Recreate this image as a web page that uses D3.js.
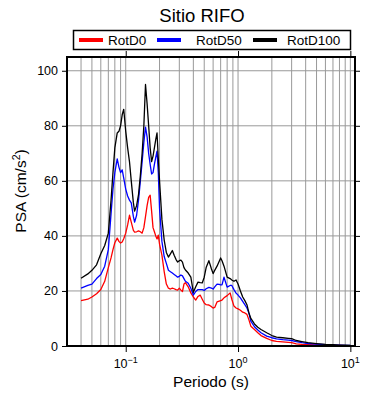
<!DOCTYPE html>
<html>
<head>
<meta charset="utf-8">
<script src="https://cdn.jsdelivr.net/npm/d3@7"></script>
<style>
  body { margin: 0; background: #fff; }
  svg { display: block; font-family: "Liberation Sans", Arial, sans-serif; }
</style>
</head>
<body>
<div id="chart"></div>
<script>
// Periodos (s) y espectros de respuesta
const periods = [0.04, 0.046, 0.05, 0.055, 0.06, 0.065, 0.07, 0.074, 0.077, 0.08,
  0.084, 0.087, 0.09, 0.093, 0.096, 0.1, 0.104, 0.108, 0.112, 0.117,
  0.12, 0.125, 0.13, 0.135, 0.14, 0.145, 0.15, 0.155, 0.16, 0.165,
  0.17, 0.175, 0.18, 0.185, 0.19, 0.195, 0.2, 0.21, 0.22, 0.23,
  0.24, 0.25, 0.26, 0.27, 0.28, 0.29, 0.3, 0.31, 0.32, 0.33,
  0.34, 0.36, 0.38, 0.4, 0.42, 0.44, 0.46, 0.48, 0.5, 0.52,
  0.55, 0.58, 0.6, 0.62, 0.65, 0.68, 0.7, 0.72, 0.75, 0.8,
  0.85, 0.88, 0.92, 0.96, 1.0, 1.05, 1.1, 1.15, 1.2, 1.25,
  1.3, 1.4, 1.5, 1.6, 1.8, 2.0, 2.2, 2.5, 2.8, 3.0,
  3.3, 3.7, 4.2, 5, 6, 7, 8, 9, 10];

const rotD0 = [16.5, 17, 17.8, 19, 20.5, 23.5, 28.5, 32, 35, 37.5,
  39.2, 38, 37.4, 37.8, 39, 41, 44, 47.5, 45, 42,
  41.4, 41.5, 41.8, 41.5, 41, 43, 47, 51, 54, 54.8,
  49, 43, 41.5, 40, 38.9, 40.3, 37, 33, 27, 22.5,
  21, 20.7, 21, 20.8, 20.5, 20.3, 21, 20.3, 19.8, 22.5,
  23, 21.5, 19.3, 17.8, 16.7, 18, 18.5, 17, 15.6, 15,
  14.9, 14.3, 13.8, 14, 16, 16.3, 16.5, 16.7, 17.5, 18.3,
  19.3, 17, 14.5, 13.8, 13.5, 13, 12.3, 12, 11.5, 9.5,
  7.2, 6, 4.8, 3.8, 2.8, 2.0, 1.7, 1.5, 1.3, 1.2,
  0.8, 0.6, 0.5, 0.4, 0.3, 0.25, 0.2, 0.15, 0.1];

const rotD50 = [21, 22, 22.5, 24.5, 26, 29, 35, 48, 57, 63,
  68, 65, 63, 64, 61, 57, 54.5, 53, 52, 47,
  45, 47.5, 53, 60, 67, 74, 79.5, 76, 70, 66,
  62.5, 63, 66, 68.5, 70.8, 63, 50, 38, 32.5, 30,
  27.5, 27, 26.5, 26, 25.5, 25, 25.3, 25.8, 25.5, 24.5,
  23.5, 22.8, 21, 18.5, 19.8, 20.5, 20.5, 20.5, 20.2, 20.8,
  21.3, 21, 20.7, 21.5, 22.5, 22.4, 22.2, 22.2, 25, 21.4,
  22, 22, 20.5, 19.2, 18.5, 17.5, 16.2, 15, 13.8, 12,
  9, 7, 5.8, 4.8, 3.6, 3.0, 2.6, 2.3, 2.1, 2.0,
  1.6, 1.2, 0.9, 0.7, 0.5, 0.4, 0.3, 0.25, 0.2];

const rotD100 = [24.6, 26.2, 27.5, 29.5, 33.5, 36.5, 41, 53, 63, 72,
  77.4, 78, 80, 84, 86, 78, 72, 67, 60, 52,
  49, 51, 55, 62, 70, 80, 95, 88, 80, 72,
  67, 69, 72, 75, 77.4, 68, 60, 46, 38.5, 34,
  32.3, 33.5, 34.7, 33, 31.5, 30.5, 31, 31.2, 30.5, 28.5,
  27.6, 26.5, 25, 19.5, 21.5, 23.2, 23, 22.9, 25, 28.5,
  31, 28, 26.3, 27.5, 29, 30.8, 32, 31, 29, 25,
  24.5, 24, 23.5, 24, 22.5, 20, 17.8, 16.5, 15, 12,
  10, 8, 6.8, 6, 4.8, 3.8, 3.2, 3.0, 2.8, 2.7,
  2.0, 1.6, 1.2, 0.9, 0.6, 0.5, 0.35, 0.3, 0.25];

const seriesNames = ["RotD0", "RotD50", "RotD100"];
const seriesColors = ["#ff0000", "#0000ff", "#000000"];
const yTicks = [0, 20, 40, 60, 80, 100];
const xDecades = [0.1, 1, 10];
const xDecadeExp = ["\u22121", "0", "1"];

const width = 390, height = 400;
const margin = { top: 57, right: 35, bottom: 54, left: 67 };
const innerW = width - margin.left - margin.right;
const innerH = height - margin.top - margin.bottom;

const svg = d3.select("#chart").append("svg")
  .attr("width", width)
  .attr("height", height);

const x = d3.scaleLog().domain([0.03, 11]).range([0, innerW]);
const y = d3.scaleLinear().domain([0, 105]).range([innerH, 0]);

// ticks menores: 2..9 de cada decada
const minorTicks = [];
[0.01, 0.1, 1].forEach(dec => {
  for (let k = 1; k <= 9; k++) {
    const v = +(dec * k).toPrecision(3);
    if (v > 0.03 && v < 11) minorTicks.push(v);
  }
});
minorTicks.push(10);

const g = svg.append("g").attr("transform", `translate(${margin.left},${margin.top})`);

// rejilla
g.append("g").selectAll("line.vg")
  .data(minorTicks)
  .join("line")
  .attr("x1", d => x(d)).attr("x2", d => x(d))
  .attr("y1", 0).attr("y2", innerH)
  .attr("stroke", "#999").attr("stroke-width", 1);

g.append("g").selectAll("line.hg")
  .data(yTicks.filter(d => d > 0))
  .join("line")
  .attr("x1", 0).attr("x2", innerW)
  .attr("y1", d => y(d)).attr("y2", d => y(d))
  .attr("stroke", "#999").attr("stroke-width", 1);

// curvas
g.append("clipPath").attr("id", "clip")
  .append("rect").attr("width", innerW).attr("height", innerH);

const line = d3.line()
  .x((d, i) => x(periods[i]))
  .y(d => y(d));

[rotD0, rotD50, rotD100].forEach((vals, i) => {
  g.append("path")
    .datum(vals)
    .attr("clip-path", "url(#clip)")
    .attr("fill", "none")
    .attr("stroke", seriesColors[i])
    .attr("stroke-width", 1.3)
    .attr("stroke-linejoin", "round")
    .attr("d", line);
});

// ejes (ticks hacia fuera en los cuatro lados)
const axB = g.append("g").attr("transform", `translate(0,${innerH})`);
axB.call(d3.axisBottom(x).tickValues(minorTicks).tickSize(3).tickFormat(""));
axB.call(d3.axisBottom(x).tickValues(xDecades).tickSize(6).tickFormat(""));
const axT = g.append("g");
axT.call(d3.axisTop(x).tickValues(minorTicks).tickSize(3).tickFormat(""));
axT.call(d3.axisTop(x).tickValues(xDecades).tickSize(6).tickFormat(""));
const axL = g.append("g").call(d3.axisLeft(y).tickValues(yTicks).tickSize(5).tickFormat(""));
const axR = g.append("g").attr("transform", `translate(${innerW},0)`)
  .call(d3.axisRight(y).tickValues(yTicks).tickSize(5).tickFormat(""));
g.selectAll(".domain").remove();
g.selectAll(".tick line").attr("stroke", "#000").attr("stroke-width", 1);

// etiquetas del eje x en potencias de 10
const xl = g.append("g").selectAll("text")
  .data(xDecades)
  .join("text")
  .attr("x", d => x(d))
  .attr("y", innerH + 22)
  .attr("text-anchor", "middle")
  .attr("font-size", 12.5)
  .attr("fill", "#000");
xl.append("tspan").text("10");
xl.append("tspan").attr("dy", -5).attr("font-size", 9).text((d, i) => xDecadeExp[i]);

g.append("g").selectAll("text")
  .data(yTicks)
  .join("text")
  .attr("x", -9)
  .attr("y", d => y(d))
  .attr("dy", "0.36em")
  .attr("text-anchor", "end")
  .attr("font-size", 12.5)
  .attr("fill", "#000")
  .text(d => d);

// marco
g.append("rect")
  .attr("width", innerW).attr("height", innerH)
  .attr("fill", "none").attr("stroke", "#000").attr("stroke-width", 2);

// titulos
svg.append("text")
  .attr("x", 202).attr("y", 22)
  .attr("text-anchor", "middle")
  .attr("font-size", 18.5)
  .text("Sitio RIFO");

svg.append("text")
  .attr("x", margin.left + innerW / 2).attr("y", 387)
  .attr("text-anchor", "middle")
  .attr("font-size", 15.5)
  .text("Periodo (s)");

const yl = svg.append("text")
  .attr("transform", `translate(26,191) rotate(-90)`)
  .attr("text-anchor", "middle")
  .attr("font-size", 15.5);
yl.append("tspan").text("PSA (cm/s");
yl.append("tspan").attr("dy", -6).attr("font-size", 10.5).text("2");
yl.append("tspan").attr("dy", 6).text(")");

// leyenda
const leg = svg.append("g");
leg.append("rect")
  .attr("x", 73.5).attr("y", 30.5).attr("width", 277).attr("height", 19)
  .attr("fill", "#fff").attr("stroke", "#000").attr("stroke-width", 1.5);
const legX = [79, 157, 253];
const legTx = [108, 196, 287];
seriesNames.forEach((name, i) => {
  leg.append("line")
    .attr("x1", legX[i]).attr("x2", legX[i] + 24)
    .attr("y1", 40).attr("y2", 40)
    .attr("stroke", seriesColors[i]).attr("stroke-width", 4);
  leg.append("text")
    .attr("x", legTx[i]).attr("y", 45)
    .attr("font-size", 13.5)
    .text(name);
});
</script>
</body>
</html>
